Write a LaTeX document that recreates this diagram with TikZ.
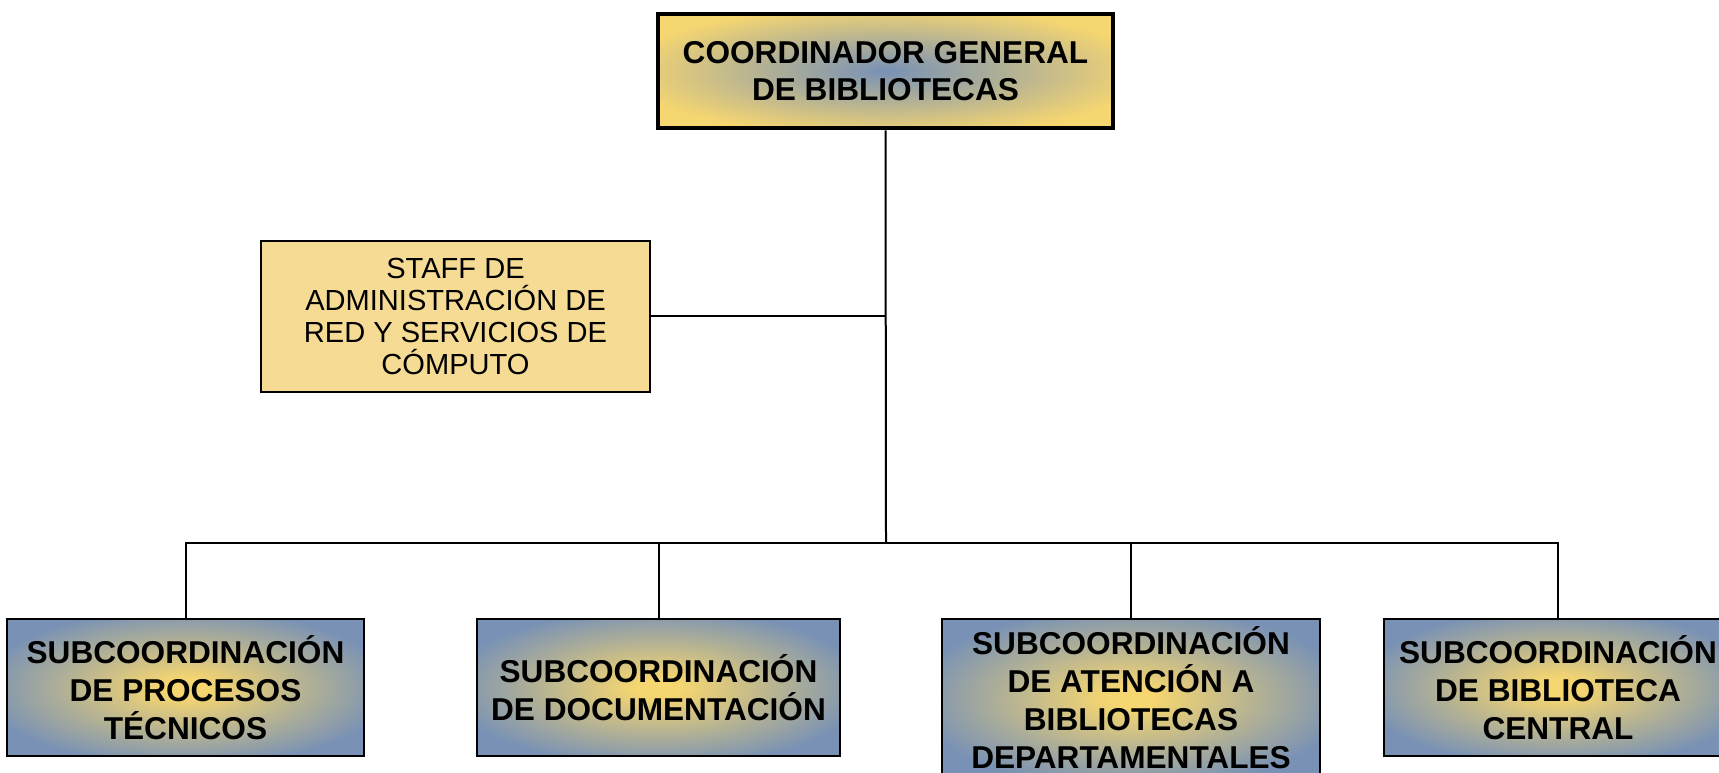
\documentclass[tikz,border=0pt]{standalone}
\usepackage{fontspec}
\setmainfont{Liberation Sans}

\definecolor{orggold}{RGB}{246,214,112}
\definecolor{orgblue}{RGB}{120,145,181}
\definecolor{stafffill}{RGB}{245,219,148}

\pgfdeclareradialshading{coordshade}{\pgfpoint{0bp}{0bp}}{color(0bp)=(orgblue); color(3bp)=(orgblue!90!orggold); color(29bp)=(orggold); color(50bp)=(orggold)}
\pgfdeclareradialshading{subshade}{\pgfpoint{0bp}{0bp}}{color(0bp)=(orggold); color(3bp)=(orggold); color(29bp)=(orgblue); color(50bp)=(orgblue)}

\tikzset{every picture/.style={line width=1.5pt}}
\tikzset{
  headbox/.style={draw, line width=3.4pt, shading=coordshade, inner sep=0pt, align=center,
    minimum width=341.25pt, minimum height=85.5pt, font=\fontsize{23.7}{27.75}\selectfont\bfseries},
  staffbox/.style={draw, line width=1.3pt, fill=stafffill, inner sep=0pt, align=center,
    minimum width=291.75pt, minimum height=113.25pt, font=\fontsize{21.8}{23.8}\selectfont},
  subbox/.style={draw, line width=1.5pt, shading=subshade, inner sep=0pt, align=center,
    minimum height=102.75pt, font=\fontsize{23.7}{28.5}\selectfont\bfseries}
}

\begin{document}
\begin{tikzpicture}[x=0.75pt,y=0.75pt,yscale=-1,xscale=1]
\useasboundingbox (0,0) rectangle (1719,773);

% Head
\node [headbox] (coord) at (885.5,71) {COORDINADOR GENERAL\\DE BIBLIOTECAS};
% Staff
\node [staffbox] (staff) at (455.5,316.5) {STAFF DE\\ADMINISTRACIÓN DE\\RED Y SERVICIOS DE\\CÓMPUTO};
% Subcoordinaciones
\node [subbox, minimum width=267.75pt] (sub1) at (185.5,687.5) {SUBCOORDINACIÓN\\DE PROCESOS\\TÉCNICOS};
\node [subbox, minimum width=272.25pt] (sub2) at (658.5,687.5) {SUBCOORDINACIÓN\\DE DOCUMENTACIÓN};
\node [subbox, minimum width=283.5pt, minimum height=117.75pt] (sub3) at (1131,697.5) {SUBCOORDINACIÓN\\DE ATENCIÓN A\\BIBLIOTECAS\\DEPARTAMENTALES};
\node [subbox, minimum width=261pt] (sub4) at (1558,687.5) {SUBCOORDINACIÓN\\DE BIBLIOTECA\\CENTRAL};

\coordinate (bus) at (886,543);

% Lines
\draw (coord.south) -- (bus);
\draw (staff.east) -- (staff.east -| bus);
\draw (sub1.north) -- (sub1.north |- bus) -- (sub4.north |- bus) -- (sub4.north);
\draw (sub2.north) -- (sub2.north |- bus);
\draw (sub3.north) -- (sub3.north |- bus);

\end{tikzpicture}
\end{document}
